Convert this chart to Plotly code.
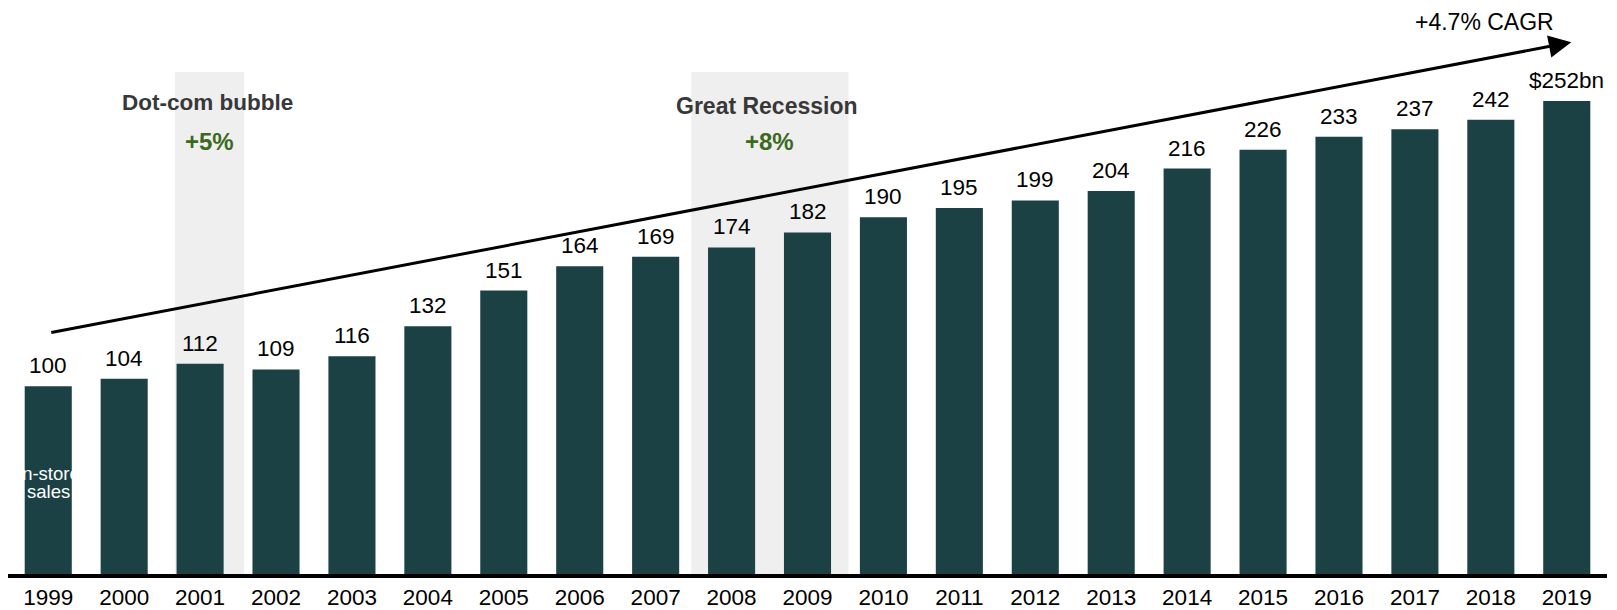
import plotly.graph_objects as go

years = list(range(1999, 2020))
sales = [100, 104, 112, 109, 116, 132, 151, 164, 169, 174, 182, 190, 195, 199, 204, 216, 226, 233, 237, 242, 252]
value_labels = [str(v) for v in sales[:-1]] + ["$" + str(sales[-1]) + "bn"]

bar_color = "#1b4144"
font_family = "Arial, Liberation Sans, Helvetica, sans-serif"

fig = go.Figure()
fig.add_trace(go.Bar(
    x=years, y=sales, marker=dict(color=bar_color, line=dict(width=0)),
    hoverinfo="skip", showlegend=False,
))

annotations = []
for yr, v, lab in zip(years, sales, value_labels):
    annotations.append(dict(x=yr, y=v, text=lab, showarrow=False, yanchor="bottom",
                            yshift=6, font=dict(size=22.5, color="#000000")))

# recession shading
shapes = [
    dict(type="rect", xref="x", yref="y", x0=2001 - 0.33, x1=2001 + 0.58, y0=0, y1=267.5,
         fillcolor="#efefef", line=dict(width=0), layer="below"),
    dict(type="rect", xref="x", yref="y", x0=2008 - 0.53, x1=2009 + 0.54, y0=0, y1=267.5,
         fillcolor="#efefef", line=dict(width=0), layer="below"),
]

annotations += [
    dict(x=2001.10, y=251.2, text="<b>Dot-com bubble</b>", showarrow=False,
         font=dict(size=22.5, color="#383838")),
    dict(x=2001.12, y=230.5, text="<b>+5%</b>", showarrow=False,
         font=dict(size=24, color="#3b6a1c")),
    dict(x=2008.47, y=249.1, text="<b>Great Recession</b>", showarrow=False,
         font=dict(size=23, color="#383838")),
    dict(x=2008.50, y=230.5, text="<b>+8%</b>", showarrow=False,
         font=dict(size=24, color="#3b6a1c")),
    dict(x=2019.06, y=283.3, ax=1999.02, ay=128.5, xref="x", yref="y", axref="x", ayref="y",
         text="", showarrow=True, arrowhead=2, arrowwidth=3, arrowsize=1.5, arrowcolor="#000000"),
    dict(x=2017.92, y=294.1, text="+4.7% CAGR", showarrow=False,
         font=dict(size=23, color="#000000")),
    dict(x=1999, y=53.8, text="In-store", showarrow=False,
         font=dict(size=18.5, color="#ffffff")),
    dict(x=1999, y=43.7, text="sales", showarrow=False,
         font=dict(size=18.5, color="#ffffff")),
]

fig.update_layout(
    width=1617, height=610,
    margin=dict(l=8, r=10, t=0, b=33),
    paper_bgcolor="white", plot_bgcolor="white",
    font=dict(family=font_family, color="#000000"),
    bargap=0.38,
    xaxis=dict(range=[1998.47, 2019.53], tickmode="array", tickvals=years,
               ticktext=[str(y) for y in years], showgrid=False, zeroline=False,
               showline=True, linecolor="#000000", linewidth=3.5, ticks="",
               tickfont=dict(size=22.5, color="#000000")),
    yaxis=dict(range=[0, 305.8], visible=False, showgrid=False, zeroline=False),
    shapes=shapes,
    annotations=annotations,
)

fig.write_html("out.html")
